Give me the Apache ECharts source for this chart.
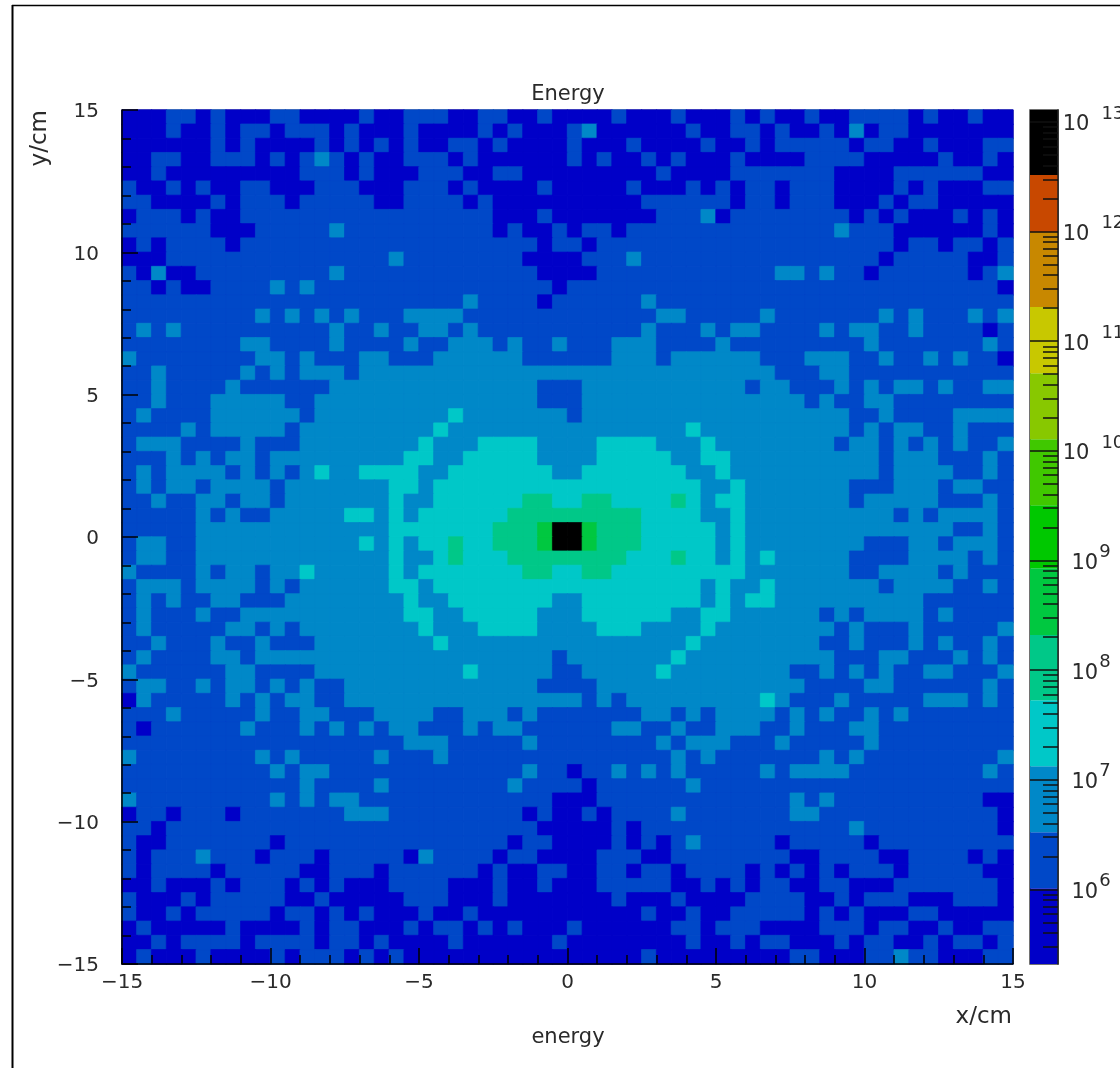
<!DOCTYPE html>
<html>
<head>
<meta charset="utf-8">
<style>html,body{margin:0;padding:0;background:#fff}#c{width:1120px;height:1068px}</style>
<script src="https://cdn.jsdelivr.net/npm/echarts@6/dist/echarts.min.js"></script>
</head>
<body>
<div id="c"></div>
<script>
// band index of every 0.5 cm bin, top row (y = +15) first, left to right; c = 12 (black)
var levelRows = [
"00011010001100001001 11001100100001000100 01010010011110100100",
"00010010110111010001 00001010001200000010 01101001020110000000",
"00000010100001010101 00110100001000100001 00101111101100100011",
"00110011101012101001 11010000001010010100 01000011110000010010",
"00100000000011101000 11100110000000001000 01111111000011111100",
"10010100110001110001 11010000100000100010 10110111000010100011",
"11000010111011111001 11101000000000011111 10110111000101100000",
"01110100111111111111 11111000100000001112 01111111101010001010",
"11111100011111211111 11111010010110111111 11111111211100000010",
"01011110111111111111 11111111011011111111 11111111111101101101",
"00011111111111111121 11111110000111211111 11111111111011111001",
"10200111111111211111 11111111000011111111 11112212110111111012",
"11010011112121111111 11111111101111111111 11111111111111111110",
"11111111111111111111 11121111011111121111 11111111111111111111",
"11111111121212121112 22211111111111112211 11121111111212111212",
"12121111111111211211 22121111111111121112 12211112122112111101",
"11111111221111211112 11222121121112221111 21111111112111111121",
"21111111122121112211 12222221111112221222 22211122211211212110",
"11211111212122212222 22222222222222222222 22221112211111111111",
"11211112111111222222 22222222111222222222 22122111212122121122",
"11211122222112222222 22222222111222222222 22222212112211111111",
"12111122222212222222 22322222221222222222 22222222211211112222",
"11112122222122222222 23222222222222222232 22222222212122112111",
"12221111211122222222 32223333222233332223 22222222122121212112",
"11121212212222222223 32233333222233333223 32222222222122211121",
"12122221212123223333 22333333322333333322 32222222222122221121",
"12122122221222222233 23333333333333333332 23222222211122212211",
"11211221221222222232 23333334433443333432 33222222212222211121",
"11111212112222233232 33333344444444433332 23222222222212122221",
"11111222222222222233 333334445cc544433333 23222222222222221121",
"12211222222222223232 334334445cc544433333 23222222221112212221",
"12211222222222222232 23433344444444333433 23232222211112222121",
"21111212212232222232 33333334433443333333 33222222211222212111",
"12221222212122222233 23333333333333333332 32232222222122221121",
"12121122111222222223 22333333322333333332 32332222222222111111",
"12111211222222222223 32233333222333333223 32222221212222121111",
"12111112212122222222 32223333222233322223 22222222121112111112",
"11211121121112222222 23222222222222222232 22222221121112121121",
"12111122122222222222 22222222212222222322 22222222111221112121",
"21111112211112222222 22232222211222223222 22222112121211221112",
"12211212212121122222 22222222111122222222 22222211112211111121",
"02111112121221122222 22222222222121222222 22232111211111222121",
"11121111121122111222 21122212111111122121 22221212112121111111",
"10111111211121212122 11121221111112211211 22211211122111111111",
"11111111111111111112 22111112111111112122 21112111112111111111",
"21111111121211111211 12111111111111111212 11111112121111111112",
"11111111112122111111 11111112110112121211 11121222211111111121",
"11111111111121111211 11111121111011111121 11111111111111111111",
"21111111112121221111 11111111100011111111 11111212111111111100",
"01101110111111122211 11111110100101111211 11111221111111111110",
"11011111111111111111 11111111000001011111 11111111121111111110",
"10011111110111111111 11111101100001010121 11110111110111111111",
"10111211101110111110 21111011000011100111 11111001111001111010",
"10111101111100111011 11110100110011011011 11010101011101111100",
"00100010111010100011 11000100100011111001 01011001100011111110",
"10001011111001000001 11000100000001000100 00111100101110001110",
"10010111110110101000 10010000000000010010 01111101010001100000",
"01000001000010110001 01101010001000000110 11100001110110010011",
"00101111011110110100 00100000010000000010 01011000101100101101",
"01000100001011101010 00000000000000010000 00000110001121100011"
];
var bandColors = ["#0000c8","#0048c8","#0088c8","#00c8c8","#00c888","#00c840","#00c800","#40c800","#88c800","#c8c800","#c88800","#c84800","#000000"];
// band edges on the colour bar, as log10(energy)
var bandEdges = [5.32,6.01,6.521,7.124,7.726,8.32,8.93,9.505,10.107,10.709,11.312,11.996,12.516,13.109];
var decades = [6,7,8,9,10,11,12,13];
var minorMultipliers = [2,3,4,5,6,7,8,9];
var xTickMin = -15, xTickMax = 15, tickStep = 5;
var binCount = 60;

var cells = [];
levelRows.forEach(function (row, r) {
  var s = row.replace(/ /g, '');
  for (var c = 0; c < s.length; c++) {
    var lv = parseInt(s[c], 16);
    cells.push({ value: [c, binCount - 1 - r, lv], itemStyle: { borderColor: bandColors[lv], borderWidth: 0.7 } });
  }
});
var binNames = [];
for (var i = 0; i < binCount; i++) binNames.push(String(i));
var bands = bandColors.map(function (col, i) { return [bandEdges[i], bandEdges[i + 1], i]; });
var minorVals = [];
[5].concat(decades).forEach(function (d) {
  minorMultipliers.forEach(function (m) {
    var v = d + Math.log10(m);
    if (v > bandEdges[0] && v < bandEdges[bandEdges.length - 1]) minorVals.push(v);
  });
});

var FONT = '"DejaVu Sans"';
var TXT = '#2a2a2a';
var minus = function (v) { return String(v).replace('-', '\u2212'); };
function valAxis(grid, pos) {
  return {
    type: 'value', gridIndex: grid, position: pos, min: xTickMin, max: xTickMax, interval: tickStep,
    axisLine: { show: true, onZero: false, lineStyle: { color: '#000', width: 1.5 } },
    axisTick: { show: true, inside: true, length: 16, lineStyle: { color: '#000', width: 1.5 } },
    minorTick: { show: true, splitNumber: 5, length: 9, lineStyle: { color: '#000', width: 1.5 } },
    splitLine: { show: false }, minorSplitLine: { show: false },
    axisLabel: { formatter: minus, fontFamily: FONT, fontSize: 20, color: TXT, showMinLabel: true, showMaxLabel: true },
    z: 5
  };
}
var xMain = valAxis(0, 'bottom'); xMain.axisLabel.margin = 9;
var yMain = valAxis(0, 'left'); yMain.axisLabel.margin = 23;
yMain.axisLabel.formatter = function (v) { return '{a|' + minus(v) + '}'; };
yMain.axisLabel.rich = { a: { fontFamily: FONT, fontSize: 20, color: TXT, padding: [4, 0, 0, 0] } };

var option = {
  animation: false,
  backgroundColor: '#fff',
  grid: [
    { left: 122, top: 110, width: 891, height: 854, outerBoundsMode: 'none', show: true, borderColor: '#555', borderWidth: 1, backgroundColor: 'transparent' },
    { left: 1030, top: 110, width: 28, height: 854, outerBoundsMode: 'none', show: true, borderColor: '#444', borderWidth: 1.5, backgroundColor: 'transparent' }
  ],
  xAxis: [
    { type: 'category', gridIndex: 0, data: binNames, show: false },
    xMain,
    { type: 'value', gridIndex: 1, min: 0, max: 1, show: false }
  ],
  yAxis: [
    { type: 'category', gridIndex: 0, data: binNames, show: false },
    yMain,
    {
      type: 'value', gridIndex: 1, position: 'right', min: bandEdges[0], max: bandEdges[bandEdges.length - 1],
      axisLine: { show: true, onZero: false, lineStyle: { color: '#222', width: 1.5 } },
      axisTick: { show: true, inside: true, length: 28, customValues: decades, lineStyle: { color: '#111', width: 1.5 } },
      splitLine: { show: false },
      axisLabel: {
        show: true, customValues: decades, margin: 33, align: 'center', hideOverlap: false, padding: [6, 0, 0, 0],
        formatter: function (v) {
          return v >= 10 ? '{c|10}{f|' + v + '}' : '{b|10}{e|' + v + '}';
        },
        rich: {
          b: { fontFamily: FONT, fontSize: 21, color: TXT },
          c: { fontFamily: FONT, fontSize: 21, color: TXT, padding: [0, 0, 0, 5] },
          e: { fontFamily: FONT, fontSize: 18, color: TXT, padding: [0, 0, 22, 1] },
          f: { fontFamily: FONT, fontSize: 18, color: TXT, padding: [0, 0, 22, 12] }
        }
      },
      z: 5
    },
    {
      type: 'value', gridIndex: 1, position: 'right', min: bandEdges[0], max: bandEdges[bandEdges.length - 1],
      axisLine: { show: false, onZero: false },
      axisTick: { show: true, inside: true, length: 15, customValues: minorVals, lineStyle: { color: '#111', width: 1.5 } },
      axisLabel: { show: false }, splitLine: { show: false },
      z: 5
    }
  ],
  visualMap: {
    show: false, type: 'piecewise', seriesIndex: 0, dimension: 2,
    pieces: bandColors.map(function (col, i) { return { value: i, color: col }; })
  },
  series: [
    {
      type: 'heatmap', xAxisIndex: 0, yAxisIndex: 0, data: cells, progressive: 0,
      emphasis: { disabled: true }
    },
    {
      type: 'custom', xAxisIndex: 2, yAxisIndex: 2, data: bands, silent: true, z: 1,
      encode: { x: [], y: [0, 1] },
      renderItem: function (params, api) {
        var lo = api.coord([0, api.value(0)]);
        var hi = api.coord([1, api.value(1)]);
        return { type: 'rect', shape: { x: lo[0], y: hi[1], width: hi[0] - lo[0], height: lo[1] - hi[1] },
                 style: { fill: bandColors[api.value(2)] } };
      }
    }
  ],
  graphic: [
    { type: 'line', shape: { x1: 12, y1: 5.5, x2: 1120, y2: 5.5 }, style: { stroke: '#000', lineWidth: 1.5 } },
    { type: 'line', shape: { x1: 12.5, y1: 5, x2: 12.5, y2: 1068 }, style: { stroke: '#000', lineWidth: 2 } },
    { type: 'text', style: { text: 'Energy', x: 568, y: 95, font: '21px ' + FONT, fill: TXT, textAlign: 'center', textVerticalAlign: 'middle' } },
    { type: 'text', style: { text: 'energy', x: 568, y: 1038, font: '21px ' + FONT, fill: TXT, textAlign: 'center', textVerticalAlign: 'middle' } },
    { type: 'text', style: { text: 'x/cm', x: 1012, y: 1017, font: '23px ' + FONT, fill: TXT, textAlign: 'right', textVerticalAlign: 'middle' } },
    { type: 'text', x: 40, y: 110, rotation: Math.PI / 2, style: { text: 'y/cm', x: 0, y: 0, font: '23px ' + FONT, fill: TXT, textAlign: 'right', textVerticalAlign: 'middle' } }
  ]
};
echarts.init(document.getElementById('c'), null, { renderer: 'canvas' }).setOption(option);
</script>
</body>
</html>
